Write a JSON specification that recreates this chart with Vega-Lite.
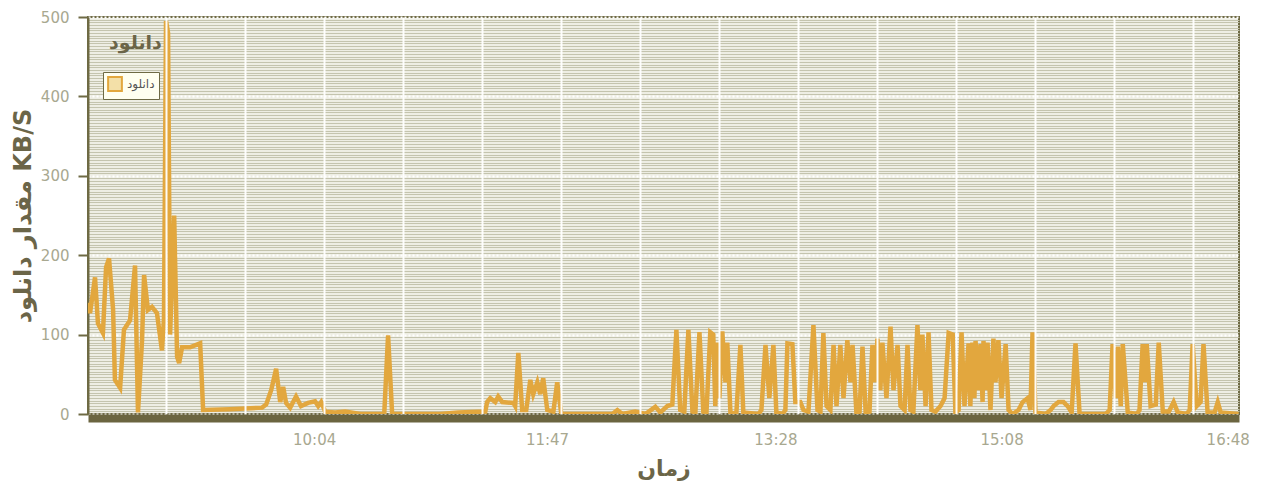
{
  "$schema": "https://vega.github.io/schema/vega-lite/v6.json",
  "width": 1151,
  "height": 397,
  "autosize": "none",
  "padding": {"left": 88, "top": 17, "right": 25, "bottom": 74},
  "background": "white",
  "config": {
    "font": "DejaVu Sans",
    "view": {"stroke": "#6e6a44", "strokeWidth": 2, "fill": "#eeeee4"}
  },
  "title": {
    "text": "دانلود",
    "anchor": "start",
    "frame": "group",
    "offset": 0,
    "dx": 21,
    "dy": 52,
    "baseline": "middle",
    "fontSize": 19,
    "fontWeight": "bold",
    "color": "#6b6548"
  },
  "data": {
    "values": [
      {"m": 504.0, "v": 140}, {"m": 504.9, "v": 127}, {"m": 507.1, "v": 172}, {"m": 508.4, "v": 114},
      {"m": 510.6, "v": 102}, {"m": 512.0, "v": 185}, {"m": 513.3, "v": 196}, {"m": 515.1, "v": 131},
      {"m": 515.9, "v": 43}, {"m": 518.2, "v": 33}, {"m": 519.9, "v": 106}, {"m": 522.6, "v": 118},
      {"m": 524.8, "v": 187}, {"m": 526.1, "v": 2}, {"m": 527.9, "v": 93}, {"m": 528.8, "v": 175},
      {"m": 530.5, "v": 131}, {"m": 532.3, "v": 135}, {"m": 534.5, "v": 127}, {"m": 536.7, "v": 80},
      {"m": 537.6, "v": 120}, {"m": 538.5, "v": 495}, {"m": 539.4, "v": 480}, {"m": 540.3, "v": 100},
      {"m": 542.1, "v": 250}, {"m": 543.4, "v": 72}, {"m": 544.3, "v": 64}, {"m": 545.6, "v": 84},
      {"m": 549.1, "v": 84}, {"m": 553.6, "v": 89}, {"m": 554.9, "v": 5}, {"m": 566.8, "v": 6},
      {"m": 581.0, "v": 8}, {"m": 582.8, "v": 12}, {"m": 585.0, "v": 30}, {"m": 587.2, "v": 57},
      {"m": 589.0, "v": 15}, {"m": 590.3, "v": 34}, {"m": 591.6, "v": 14}, {"m": 593.4, "v": 8},
      {"m": 596.0, "v": 22}, {"m": 598.2, "v": 10}, {"m": 601.3, "v": 14}, {"m": 604.4, "v": 16},
      {"m": 605.8, "v": 10}, {"m": 607.1, "v": 15}, {"m": 608.9, "v": 3}, {"m": 613.3, "v": 2},
      {"m": 617.7, "v": 3}, {"m": 624.4, "v": 0}, {"m": 635.0, "v": 0}, {"m": 636.7, "v": 99},
      {"m": 638.5, "v": 0}, {"m": 659.8, "v": 0}, {"m": 667.7, "v": 2}, {"m": 679.7, "v": 3},
      {"m": 680.5, "v": 15}, {"m": 681.9, "v": 20}, {"m": 684.1, "v": 15}, {"m": 685.4, "v": 22},
      {"m": 687.2, "v": 15}, {"m": 692.1, "v": 14}, {"m": 692.9, "v": 10}, {"m": 694.3, "v": 77},
      {"m": 696.0, "v": 5}, {"m": 697.8, "v": 5}, {"m": 699.6, "v": 43}, {"m": 700.9, "v": 25},
      {"m": 702.7, "v": 40}, {"m": 704.0, "v": 25}, {"m": 705.3, "v": 45}, {"m": 707.1, "v": 5},
      {"m": 709.8, "v": 3}, {"m": 711.5, "v": 40}, {"m": 713.3, "v": 0}, {"m": 735.9, "v": 0},
      {"m": 738.1, "v": 5}, {"m": 740.3, "v": 0}, {"m": 746.0, "v": 3}, {"m": 750.5, "v": 0},
      {"m": 754.9, "v": 9}, {"m": 757.1, "v": 2}, {"m": 760.2, "v": 10}, {"m": 762.4, "v": 12},
      {"m": 764.2, "v": 106}, {"m": 765.9, "v": 5}, {"m": 767.7, "v": 3}, {"m": 769.5, "v": 106},
      {"m": 771.3, "v": 3}, {"m": 772.6, "v": 2}, {"m": 774.4, "v": 103}, {"m": 776.1, "v": 3},
      {"m": 777.5, "v": 2}, {"m": 779.2, "v": 103}, {"m": 780.5, "v": 100}, {"m": 781.4, "v": 10},
      {"m": 782.3, "v": 90}, {"m": 783.2, "v": 20}, {"m": 784.5, "v": 104}, {"m": 785.9, "v": 40},
      {"m": 786.7, "v": 90}, {"m": 788.1, "v": 2}, {"m": 790.7, "v": 0}, {"m": 792.5, "v": 87},
      {"m": 793.8, "v": 2}, {"m": 800.5, "v": 0}, {"m": 801.8, "v": 5}, {"m": 803.6, "v": 87},
      {"m": 805.3, "v": 20}, {"m": 807.1, "v": 87}, {"m": 808.4, "v": 2}, {"m": 811.1, "v": 0},
      {"m": 812.4, "v": 5}, {"m": 813.3, "v": 89}, {"m": 815.5, "v": 88}, {"m": 816.8, "v": 15},
      {"m": 819.0, "v": 15}, {"m": 820.4, "v": 5}, {"m": 822.6, "v": 3}, {"m": 824.8, "v": 112},
      {"m": 826.6, "v": 5}, {"m": 827.9, "v": 3}, {"m": 829.2, "v": 102}, {"m": 830.6, "v": 10},
      {"m": 832.3, "v": 5}, {"m": 833.7, "v": 87}, {"m": 835.0, "v": 10}, {"m": 836.7, "v": 87},
      {"m": 838.1, "v": 20}, {"m": 839.8, "v": 93}, {"m": 841.2, "v": 40}, {"m": 842.1, "v": 87},
      {"m": 843.8, "v": 2}, {"m": 845.2, "v": 3}, {"m": 846.5, "v": 85}, {"m": 847.9, "v": 2},
      {"m": 849.6, "v": 3}, {"m": 850.9, "v": 87}, {"m": 852.2, "v": 40}, {"m": 853.1, "v": 95},
      {"m": 854.4, "v": 30}, {"m": 855.3, "v": 90}, {"m": 857.1, "v": 20}, {"m": 858.9, "v": 110},
      {"m": 860.2, "v": 30}, {"m": 862.0, "v": 87}, {"m": 863.3, "v": 10}, {"m": 865.1, "v": 5},
      {"m": 866.4, "v": 87}, {"m": 867.7, "v": 5}, {"m": 869.0, "v": 3}, {"m": 870.8, "v": 112},
      {"m": 872.1, "v": 30}, {"m": 873.0, "v": 100}, {"m": 874.4, "v": 10}, {"m": 875.7, "v": 103},
      {"m": 877.0, "v": 5}, {"m": 878.8, "v": 3}, {"m": 881.0, "v": 10}, {"m": 882.8, "v": 20},
      {"m": 884.6, "v": 102}, {"m": 886.4, "v": 100}, {"m": 887.6, "v": 2}, {"m": 889.0, "v": 5},
      {"m": 890.3, "v": 103}, {"m": 891.6, "v": 10}, {"m": 893.4, "v": 89}, {"m": 894.2, "v": 10},
      {"m": 895.1, "v": 90}, {"m": 896.0, "v": 20}, {"m": 896.5, "v": 92}, {"m": 897.8, "v": 30},
      {"m": 898.7, "v": 88}, {"m": 899.6, "v": 15}, {"m": 900.0, "v": 92}, {"m": 900.9, "v": 30},
      {"m": 901.8, "v": 90}, {"m": 903.1, "v": 5}, {"m": 904.4, "v": 95}, {"m": 905.3, "v": 40},
      {"m": 906.6, "v": 93}, {"m": 908.0, "v": 20}, {"m": 909.8, "v": 88}, {"m": 911.1, "v": 5},
      {"m": 912.9, "v": 0}, {"m": 915.5, "v": 5}, {"m": 917.3, "v": 15}, {"m": 919.5, "v": 20},
      {"m": 920.8, "v": 5}, {"m": 921.7, "v": 103}, {"m": 923.0, "v": 2}, {"m": 927.5, "v": 0},
      {"m": 929.7, "v": 5}, {"m": 931.0, "v": 10}, {"m": 933.2, "v": 15}, {"m": 935.4, "v": 15},
      {"m": 937.2, "v": 10}, {"m": 939.0, "v": 2}, {"m": 940.7, "v": 89}, {"m": 942.5, "v": 0},
      {"m": 954.0, "v": 0}, {"m": 955.8, "v": 5}, {"m": 957.1, "v": 88}, {"m": 958.5, "v": 20},
      {"m": 959.4, "v": 85}, {"m": 960.7, "v": 10}, {"m": 961.6, "v": 88}, {"m": 963.8, "v": 2},
      {"m": 967.8, "v": 0}, {"m": 969.0, "v": 5}, {"m": 970.4, "v": 88}, {"m": 971.3, "v": 40},
      {"m": 972.2, "v": 88}, {"m": 973.9, "v": 10}, {"m": 976.2, "v": 12}, {"m": 977.5, "v": 90},
      {"m": 979.3, "v": 3}, {"m": 982.0, "v": 3}, {"m": 984.1, "v": 15}, {"m": 985.9, "v": 2},
      {"m": 989.8, "v": 0}, {"m": 991.2, "v": 5}, {"m": 992.5, "v": 88}, {"m": 994.3, "v": 10},
      {"m": 996.0, "v": 15}, {"m": 997.3, "v": 88}, {"m": 999.1, "v": 2}, {"m": 1002.2, "v": 2},
      {"m": 1003.6, "v": 15}, {"m": 1004.9, "v": 2}, {"m": 1012.8, "v": 0}
    ]
  },
  "mark": {"type": "line", "strokeWidth": 4.5, "clip": true},
  "encoding": {
    "x": {
      "field": "m",
      "type": "quantitative",
      "title": "زمان",
      "scale": {"domain": [504, 1013], "nice": false, "zero": false},
      "axis": {
        "values": [538.5, 573.4, 604, 608.4, 643.3, 678.2, 707, 713.2, 748.1, 783.0, 808, 818.0, 852.9, 887.8, 908, 922.7, 957.7, 992.6, 1008],
        "labelExpr": "indexof([604,707,808,908,1008], datum.value) >= 0 ? floor(datum.value/60) + ':' + (datum.value % 60 < 10 ? '0' : '') + (datum.value % 60) : ''",
        "grid": true,
        "gridColor": "#ffffff",
        "gridWidth": 2,
        "gridOpacity": {"condition": {"test": "indexof([604,707,808,908,1008], datum.value) >= 0", "value": 0}, "value": 0.95},
        "ticks": false,
        "zindex": 1,
        "domainColor": "#6b6540",
        "domainWidth": 8,
        "offset": 4,
        "labelPadding": 14,
        "labelColor": "#a8a890",
        "labelFontSize": 15,
        "labelOverlap": false,
        "labelBound": false,
        "labelFlush": false,
        "titleFontSize": 22,
        "titleFontWeight": "bold",
        "titleColor": "#6b6548",
        "titlePadding": 11
      }
    },
    "y": {
      "field": "v",
      "type": "quantitative",
      "title": "مقدار دانلود KB/S",
      "scale": {"domain": [0, 500], "nice": false},
      "axis": {
        "values": [0, 3.33, 6.67, 10, 13.33, 16.67, 20, 23.33, 26.67, 30, 33.33, 36.67, 40, 43.33, 46.67, 50, 53.33, 56.67, 60, 63.33, 66.67, 70, 73.33, 76.67, 80, 83.33, 86.67, 90, 93.33, 96.67,
          100, 103.33, 106.67, 110, 113.33, 116.67, 120, 123.33, 126.67, 130, 133.33, 136.67, 140, 143.33, 146.67, 150, 153.33, 156.67, 160, 163.33, 166.67, 170, 173.33, 176.67, 180, 183.33, 186.67, 190, 193.33, 196.67,
          200, 203.33, 206.67, 210, 213.33, 216.67, 220, 223.33, 226.67, 230, 233.33, 236.67, 240, 243.33, 246.67, 250, 253.33, 256.67, 260, 263.33, 266.67, 270, 273.33, 276.67, 280, 283.33, 286.67, 290, 293.33, 296.67,
          300, 303.33, 306.67, 310, 313.33, 316.67, 320, 323.33, 326.67, 330, 333.33, 336.67, 340, 343.33, 346.67, 350, 353.33, 356.67, 360, 363.33, 366.67, 370, 373.33, 376.67, 380, 383.33, 386.67, 390, 393.33, 396.67,
          400, 403.33, 406.67, 410, 413.33, 416.67, 420, 423.33, 426.67, 430, 433.33, 436.67, 440, 443.33, 446.67, 450, 453.33, 456.67, 460, 463.33, 466.67, 470, 473.33, 476.67, 480, 483.33, 486.67, 490, 493.33, 496.67, 500],
        "labelExpr": "datum.value % 100 === 0 ? datum.label : ''",
        "grid": true,
        "gridColor": {"condition": {"test": "datum.value % 100 === 0", "value": "#ffffff"}, "value": "#c4c4ae"},
        "gridDash": {"condition": {"test": "datum.value % 100 === 0", "value": [2, 2]}, "value": []},
        "gridWidth": {"condition": {"test": "datum.value % 100 === 0", "value": 2}, "value": 1.2},
        "tickOpacity": {"condition": {"test": "datum.value % 100 === 0", "value": 1}, "value": 0},
        "tickSize": 10,
        "tickColor": "#6e6a44",
        "tickWidth": 2,
        "domainColor": "#6e6a44",
        "domainWidth": 2,
        "labelPadding": 9,
        "labelColor": "#a8a890",
        "labelFontSize": 15,
        "labelOverlap": false,
        "labelBound": false,
        "labelFlush": false,
        "titleFontSize": 24,
        "titleFontWeight": "bold",
        "titleColor": "#6b6548",
        "titlePadding": 5
      }
    },
    "color": {
      "datum": "دانلود",
      "type": "nominal",
      "scale": {"range": ["#e2a73e"]},
      "legend": {
        "orient": "none",
        "legendX": 15,
        "legendY": 55,
        "title": null,
        "fillColor": "#fffff0",
        "strokeColor": "#6e6a44",
        "padding": 4,
        "symbolType": "square",
        "symbolSize": 190,
        "labelFontSize": 12,
        "labelColor": "#555555",
        "encode": {
          "symbols": {"update": {"fill": {"value": "#f3e0a8"}, "stroke": {"value": "#e2a73e"}, "strokeWidth": {"value": 2}, "opacity": {"value": 1}}}
        }
      }
    }
  }
}
